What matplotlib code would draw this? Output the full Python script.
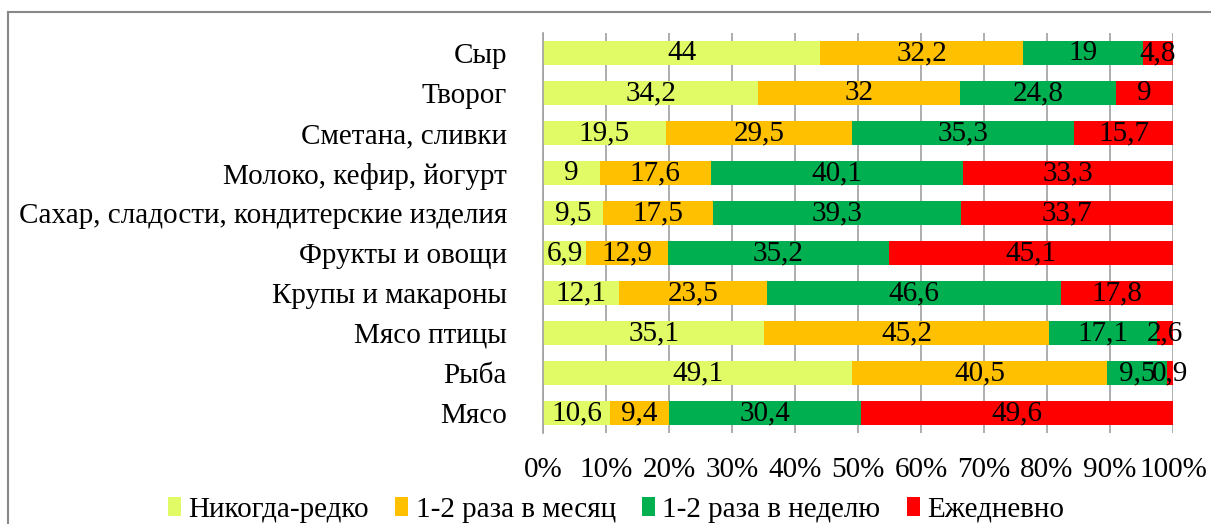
import numpy as np
import matplotlib.pyplot as plt
from matplotlib.lines import Line2D

plt.rcParams['font.family'] = ['Liberation Serif', 'DejaVu Serif']

# категории сверху вниз
categories = ['Сыр', 'Творог', 'Сметана, сливки', 'Молоко, кефир, йогурт',
              'Сахар, сладости, кондитерские изделия', 'Фрукты и овощи',
              'Крупы и макароны', 'Мясо птицы', 'Рыба', 'Мясо']
series_names = ['Никогда-редко', '1-2 раза в месяц', '1-2 раза в неделю', 'Ежедневно']
never_rarely = [44, 34.2, 19.5, 9, 9.5, 6.9, 12.1, 35.1, 49.1, 10.6]
per_month = [32.2, 32, 29.5, 17.6, 17.5, 12.9, 23.5, 45.2, 40.5, 9.4]
per_week = [19, 24.8, 35.3, 40.1, 39.3, 35.2, 46.6, 17.1, 9.5, 30.4]
daily = [4.8, 9, 15.7, 33.3, 33.7, 45.1, 17.8, 2.6, 0.9, 49.6]
colors = ['#E0FB66', '#FFC000', '#00B050', '#FF0000']
tick_labels = ['0%', '10%', '20%', '30%', '40%', '50%', '60%', '70%', '80%', '90%', '100%']

vals = np.array([never_rarely, per_month, per_week, daily], dtype=float)
# 100% нормировка по строке
shares = vals / vals.sum(axis=0) * 100

fs = 21
fig = plt.figure(figsize=(12.11, 5.24), dpi=100)
ax = fig.add_axes([543/1211, 1-433/524, 630/1211, 400/524])

y = np.arange(len(categories))
left = np.zeros(len(categories))
for i in range(4):
    bars = ax.barh(y, shares[i], left=left, height=0.58, color=colors[i],
                   label=series_names[i], zorder=2)
    labels = [('%g' % v).replace('.', ',') for v in vals[i]]
    ax.bar_label(bars, labels=labels, label_type='center', fontsize=fs, zorder=3)
    left += shares[i]

ax.set_xlim(0, 100)
ax.set_ylim(len(categories)-0.5, -0.5)
ax.set_xticks(np.arange(0, 101, 10))
ax.set_xticklabels(tick_labels, fontsize=fs)
ax.set_yticks(y)
ax.set_yticklabels(categories, fontsize=fs)
ax.tick_params(axis='x', length=0, pad=17)
ax.tick_params(axis='y', length=0, pad=26)
ax.grid(axis='x', color='#A0A0A0', linewidth=1.2, zorder=0)
for s in ['top', 'right', 'bottom']:
    ax.spines[s].set_visible(False)
ax.spines['left'].set_color('#A0A0A0')
ax.spines['left'].set_linewidth(1.2)

fig.legend(loc='center', bbox_to_anchor=(616/1211, 1-510/524), ncol=4,
           frameon=False, fontsize=fs, handlelength=0.45, handleheight=0.6,
           handletextpad=0.25, columnspacing=0.9)

# рамка
fig.add_artist(Line2D([8/1211, 1], [1-12/524, 1-12/524], color='#888888', lw=1.5))
fig.add_artist(Line2D([8/1211, 8/1211], [0, 1-12/524], color='#888888', lw=1.5))

fig.savefig('out.png', dpi=100)
